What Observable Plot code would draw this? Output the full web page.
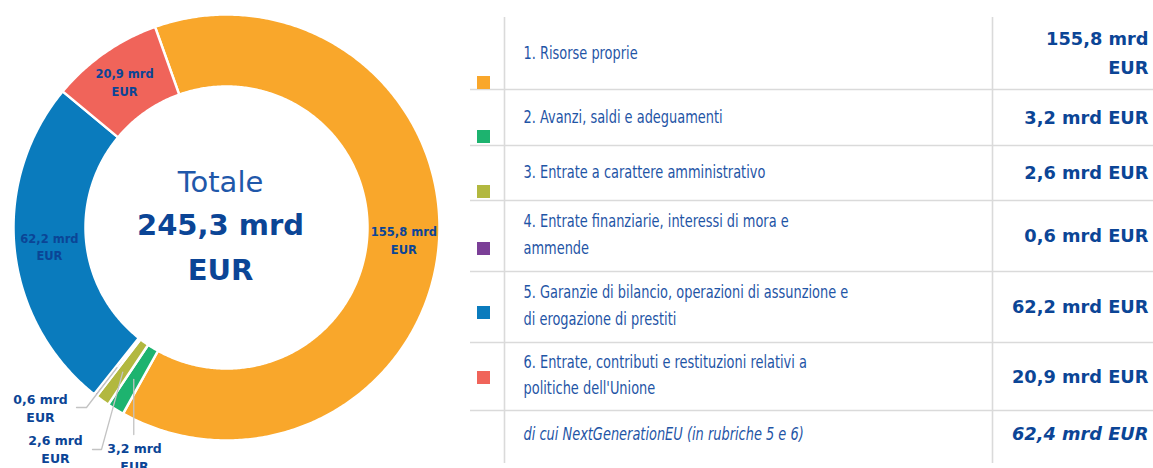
<!DOCTYPE html>
<html><head><meta charset="utf-8">
<script src="https://cdn.jsdelivr.net/npm/d3@7"></script>
<script src="https://cdn.jsdelivr.net/npm/@observablehq/plot@0.6"></script>
<style>html,body{margin:0;padding:0;background:#fff;}</style>
</head><body><div id="chart"></div>
<script>
// ---- data ----
const categories = [
  "1. Risorse proprie",
  "2. Avanzi, saldi e adeguamenti",
  "3. Entrate a carattere amministrativo",
  "4. Entrate finanziarie, interessi di mora e ammende",
  "5. Garanzie di bilancio, operazioni di assunzione e di erogazione di prestiti",
  "6. Entrate, contributi e restituzioni relativi a politiche dell'Unione"
];
const tableLabels = [
  "1. Risorse proprie",
  "2. Avanzi, saldi e adeguamenti",
  "3. Entrate a carattere amministrativo",
  "4. Entrate finanziarie, interessi di mora e\nammende",
  "5. Garanzie di bilancio, operazioni di assunzione e\ndi erogazione di prestiti",
  "6. Entrate, contributi e restituzioni relativi a\npolitiche dell'Unione"
];
const values = [155.8, 3.2, 2.6, 0.6, 62.2, 20.9];
const colors = ["#F9A72B", "#1DB36F", "#B2B83F", "#7B3F97", "#0A7BBD", "#F0645A"];
const totalTitle = "Totale";
const totalValue = 245.3;
const unit = "mrd EUR";
const nextGenLabel = "di cui NextGenerationEU (in rubriche 5 e 6)";
const nextGenValue = 62.4;

// ---- layout ----
const W = 1153, H = 468;
const cx = 226, cy = 227, rOuter = 213, rInner = 141, rMid = 178;
const startAngle = -19.6 * Math.PI / 180;
const rowEdges = [17, 89, 145, 200, 271, 342, 410, 463];
const squareTops = [76, 130, 185, 242, 306, 371];
const textColor = "#1f55a6", boldColor = "#0b4596", gridColor = "#dadada";
const narrow = "'Liberation Sans Narrow', 'Arial Narrow', 'DejaVu Sans Condensed', 'DejaVu Sans', sans-serif";
const boldFont = "'DejaVu Sans', sans-serif";
const labelX = 523, labelTargetWidth = 325;

const fmt = v => v.toFixed(1).replace(".", ",");
const arcs = d3.pie().sort(null).startAngle(startAngle).endAngle(startAngle + 2 * Math.PI)(values);
const polar = (a, r) => [cx + r * Math.sin(a), cy - r * Math.cos(a)];

const slicePts = [];
arcs.forEach((a, i) => {
  const span = a.endAngle - a.startAngle;
  const n = Math.max(2, Math.ceil(span / 0.01));
  const pts = [];
  for (let k = 0; k <= n; k++) pts.push(polar(a.startAngle + span * k / n, rOuter));
  for (let k = n; k >= 0; k--) pts.push(polar(a.startAngle + span * k / n, rInner));
  pts.push(pts[0]);
  pts.forEach(([x, y]) => slicePts.push({cat: categories[i], x, y}));
});
const mids = arcs.map(a => polar((a.startAngle + a.endAngle) / 2, rMid));

const ringLabels = arcs.map((a, i) => ({i, x: mids[i][0], y: mids[i][1] - (i === 0 ? 3 : 0), text: fmt(values[i]) + " mrd\nEUR"}))
  .filter(d => values[d.i] > 10);

const outside = [
  {i: 3, lx: 40, ly: 407, path: [[76, 407], [86, 407]]},
  {i: 2, lx: 55, ly: 448, path: [[92, 449], [101, 449]]},
  {i: 1, lx: 134, ly: 456, path: [[null, 434]]}
];
const leaderPts = [];
outside.forEach(o => {
  const m = mids[o.i];
  o.path.forEach(([x, y]) => leaderPts.push({k: o.i, x: x == null ? m[0] : x, y}));
  leaderPts.push({k: o.i, x: m[0], y: m[1]});
});
const outsideLabels = outside.map(o => ({x: o.lx, y: o.ly, text: fmt(values[o.i]) + " mrd\nEUR"}));

const rows = categories.map((c, i) => ({
  cat: c,
  label: tableLabels[i],
  value: i === 0 ? fmt(values[i]) + " mrd\nEUR" : fmt(values[i]) + " " + unit,
  y: (rowEdges[i] + rowEdges[i + 1]) / 2 - (tableLabels[i].includes("\n") ? 4 : 3),
  vy: (rowEdges[i] + rowEdges[i + 1]) / 2 - 3,
  sq: squareTops[i]
}));
const lastY = (rowEdges[6] + rowEdges[7]) / 2 - 3;

const chart = Plot.plot({
  width: W, height: H, margin: 0,
  x: {domain: [0, W], axis: null},
  y: {domain: [H, 0], axis: null},
  color: {domain: categories, range: colors},
  style: {background: "#fff"},
  marks: [
    Plot.line(slicePts, {x: "x", y: "y", z: "cat", fill: "cat", stroke: "#fff", strokeWidth: 2.5, curve: "linear"}),
    Plot.line(leaderPts, {x: "x", y: "y", z: "k", stroke: "#c3c3c3", strokeWidth: 1.3}),
    Plot.text(ringLabels, {x: "x", y: "y", text: "text", fill: boldColor, fontFamily: boldFont, fontWeight: "bold", fontSize: 11.5, lineHeight: 1.55, lineAnchor: "middle"}),
    Plot.text(outsideLabels, {x: "x", y: "y", text: "text", fill: boldColor, fontFamily: boldFont, fontWeight: "bold", fontSize: 12.5, lineHeight: 1.45, lineAnchor: "middle"}),
    Plot.text([totalTitle], {x: 220, y: 182, text: d => d, fill: "#1f58aa", fontFamily: boldFont, fontSize: 29, lineAnchor: "middle"}),
    Plot.text([fmt(totalValue) + " mrd\nEUR"], {x: 220, y: 243, text: d => d, fill: boldColor, fontFamily: boldFont, fontWeight: "bold", fontSize: 29, lineHeight: 1.55, lineAnchor: "middle"}),
    Plot.ruleY(rowEdges.slice(1, -1), {x1: 470, x2: W, stroke: gridColor, strokeWidth: 1.6}),
    Plot.ruleX([504, 992], {y1: rowEdges[0], y2: rowEdges[7], stroke: gridColor, strokeWidth: 1.6}),
    Plot.rect(rows, {x1: 477, x2: 490, y1: "sq", y2: d => d.sq + 13, fill: "cat"}),
    Plot.text(rows, {x: labelX, y: "y", text: "label", fill: textColor, fontFamily: narrow, fontSize: 17.5, lineHeight: 1.5, textAnchor: "start", lineAnchor: "middle"}),
    Plot.text(rows, {x: 1148, y: "vy", text: "value", fill: boldColor, fontFamily: boldFont, fontWeight: "bold", fontSize: 17.8, lineHeight: 1.58, textAnchor: "end", lineAnchor: "middle"}),
    Plot.text([nextGenLabel], {x: labelX, y: lastY, text: d => d, fill: textColor, fontFamily: narrow, fontStyle: "italic", fontSize: 17.5, textAnchor: "start", lineAnchor: "middle"}),
    Plot.text([fmt(nextGenValue) + " " + unit], {x: 1148, y: lastY, text: d => d, fill: boldColor, fontFamily: boldFont, fontWeight: "bold", fontStyle: "italic", fontSize: 17.8, textAnchor: "end", lineAnchor: "middle"})
  ]
});
document.getElementById("chart").appendChild(chart);

// horizontally condense the label column to match the reference's narrow typeface
const allTexts = Array.from(chart.querySelectorAll("text"));
const findGroup = s => { const t = allTexts.find(el => el.textContent.startsWith(s)); return t ? t.parentNode : null; };
const labelGroup = findGroup("1. Risorse");
const italicGroup = findGroup("di cui Next");
if (labelGroup) {
  const w = labelGroup.getBBox().width;
  const sx = w > 0 ? Math.min(1, labelTargetWidth / w) : 1;
  [labelGroup, italicGroup].filter(Boolean).forEach(g => {
    const prev = g.getAttribute("transform") || "";
    g.setAttribute("transform", `${prev} translate(${labelX},0) scale(${sx},1) translate(${-labelX},0)`.trim());
  });
}
</script>
</body></html>
